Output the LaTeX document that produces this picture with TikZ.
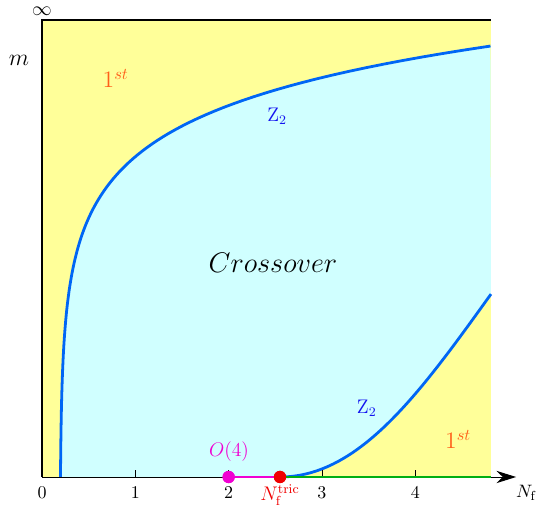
\documentclass[tikz,border=0pt]{standalone}
\usetikzlibrary{arrows.meta}
\definecolor{firstYellow}{RGB}{255,255,153}
\definecolor{crossCyan}{RGB}{208,255,255}
\definecolor{lineBlue}{RGB}{0,102,245}
\definecolor{firstOrange}{RGB}{255,95,25}
\definecolor{zBlue}{RGB}{20,20,240}
\definecolor{oMagenta}{RGB}{240,0,210}
\definecolor{tricRed}{RGB}{240,0,0}
\definecolor{lineGreen}{RGB}{0,175,20}
\begin{document}
\begin{tikzpicture}[scale=2,
	boundary/.style={line width=1.7pt, draw=lineBlue},
	segment/.style={line width=1.7pt},
	dot/.style={circle, inner sep=0pt, minimum size=7.5pt},
	ticklabel/.style={font=\fontsize{11}{13}\selectfont}]
	
	\useasboundingbox (-0.45,-0.311) rectangle (5.304,5.111);
	
	% ---- Regions ----
	\fill[firstYellow] (0,0) rectangle (4.811,4.897);
	\fill[crossCyan] plot[domain=0:4.618, samples=120, variable=\t] ({0.193+exp((\t-3.578)/0.68)},\t)
		-- (4.811,1.96) .. controls (4.05,0.9) and (3.4,0) .. (2.55,0) -- cycle;
	
	% ---- Z2 lines ----
	\draw[boundary] plot[domain=0:4.618, samples=120, variable=\t] ({0.193+exp((\t-3.578)/0.68)},\t);
	\draw[boundary] (2.55,0) .. controls (3.4,0) and (4.05,0.9) .. (4.811,1.96);
	
	% ---- Axes and frame ----
	\coordinate (origin) at (0,0);
	\coordinate (xend) at (5.08,0);
	\coordinate (ytop) at (0,4.897);
	\coordinate (corner) at (4.811,4.897);
	\coordinate (xright) at (4.811,0);
	\draw[line width=0.6pt, -{Stealth[length=12pt,width=7.5pt]}] (origin) -- (xend);
	\draw[line width=0.8pt] (origin) -- (ytop) -- (corner);
	
	\foreach \x in {1,2,3,4}
	{
		\draw[line width=0.5pt] (\x,0) -- (\x,0.07);
	}
	\foreach \x in {0,1,2,3,4}
	{
		\node[ticklabel] (tick\x) at (\x,-0.17) {$\x$};
	}
	\node[ticklabel] (nf) at (5.19,-0.17) {$N_{\rm f}$};
	\node[font=\large, inner sep=0pt] (inf) at (0,4.99) {$\infty$};
	\node[font=\Large] (mass) at (-0.246,4.468) {$m$};
	
	% ---- Transition points ----
	\node[dot, fill=oMagenta] (o4) at (2,0) {};
	\node[dot, fill=tricRed] (tric) at (2.55,0) {};
	\draw[segment, lineGreen] (tric) -- (xright);
	\draw[segment, oMagenta] (o4) -- (tric);
	\node[dot, fill=oMagenta] at (o4) {};
	\node[dot, fill=tricRed] at (tric) {};
	\node[font=\large, text=oMagenta] (o4label) at (2.004,0.27) {$O(4)$};
	\node[font=\large, text=tricRed, inner sep=0pt] (triclabel) at (2.55,-0.19) {$N_{\rm f}^{\rm tric}$};
	
	% ---- Region labels ----
	\node[font=\Large, text=firstOrange] (firstA) at (0.79,4.27) {$1^{st}$};
	\node[font=\Large, text=firstOrange] (firstB) at (4.46,0.40) {$1^{st}$};
	\node[font=\large, text=zBlue] (zA) at (2.52,3.87) {$\mathrm{Z}_2$};
	\node[font=\large, text=zBlue] (zB) at (3.48,0.74) {$\mathrm{Z}_2$};
	\node[font=\LARGE] (cross) at (2.475,2.293) {$Crossover$};
	
\end{tikzpicture}
\end{document}
